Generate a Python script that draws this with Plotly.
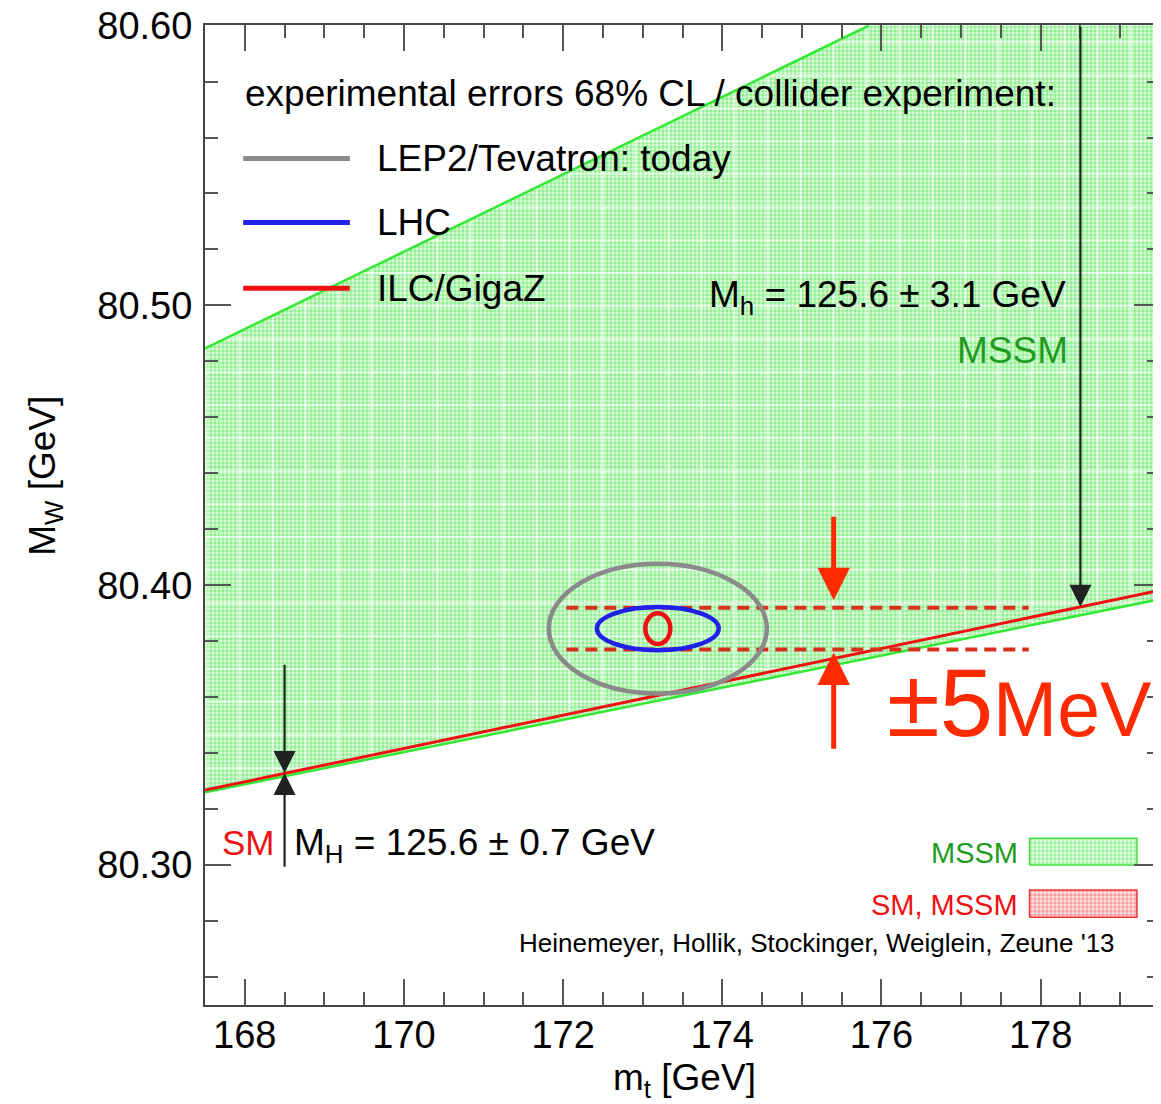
import numpy as np
import plotly.graph_objects as go

# ---------------- data ----------------
# MSSM allowed band (boundary polygon, m_t [GeV], M_W [GeV])
mssm_mt = [167.5, 179.5, 179.5, 175.84, 167.5]
mssm_mw = [80.326, 80.395, 80.60, 80.60, 80.4846]
# SM line (M_H = 125.6 GeV)
sm_mt = [167.5, 179.5]
sm_mw = [80.3268, 80.3982]
# ILC/GigaZ +-5 MeV band (dashed lines)
band_mt = [172.04, 177.85]
band_mw_hi = 80.392
band_mw_lo = 80.377
# ellipses: centre and half-widths
ell_center = (173.19, 80.3845)
ell_names = ["LEP2/Tevatron: today", "LHC", "ILC/GigaZ"]
ell_dx = [1.37, 0.765, 0.157]
ell_dy = [0.0232, 0.0077, 0.0055]
ell_colors = ["#8a8a8a", "#2020e8", "#ee1010"]
# axes
x_range = [167.5, 179.5]
y_range = [80.25, 80.6002]
x_ticks = [168, 170, 172, 174, 176, 178]
y_ticks = [80.30, 80.40, 80.50, 80.60]

FONT = "Liberation Sans, Arial, Helvetica, sans-serif"

fig = go.Figure()

# MSSM band with dotted pattern
fig.add_trace(go.Scatter(
    x=mssm_mt, y=mssm_mw, mode="lines", fill="toself",
    line=dict(color="rgba(0,0,0,0)", width=0),
    fillpattern=dict(shape=".", fgcolor="#45e245", bgcolor="#dcfadc",
                     size=4, solidity=0.55),
    hoverinfo="skip", showlegend=False))

# white raster grid inside the band (mimics the rendered pattern)
lo_x, lo_y = mssm_mt[0:2], mssm_mw[0:2]
up_x, up_y = [mssm_mt[4], mssm_mt[3]], [mssm_mw[4], mssm_mw[3]]
gx, gy = [], []
dxg = 33 / 79.58
dyg = 33 / 2800
for xv in np.arange(167.5 + 0.02, 179.5, dxg):
    y0 = np.interp(xv, lo_x, lo_y)
    y1 = min(np.interp(xv, up_x, up_y, right=80.60), 80.60)
    gx += [xv, xv, None]
    gy += [y0, y1, None]
for yv in np.arange(80.60 - 0.006, 80.32, -dyg):
    xa = np.interp(yv, up_y, up_x) if yv > up_y[0] else 167.5
    xb = np.interp(yv, lo_y, lo_x) if yv < lo_y[1] else 179.5
    if xb > xa:
        gx += [xa, xb, None]
        gy += [yv, yv, None]
fig.add_trace(go.Scatter(x=gx, y=gy, mode="lines",
                         line=dict(color="rgba(255,255,255,0.55)", width=2.2),
                         hoverinfo="skip", showlegend=False))

# band edges
fig.add_trace(go.Scatter(x=[mssm_mt[0], mssm_mt[1]], y=[mssm_mw[0], mssm_mw[1]],
                         mode="lines", line=dict(color="#33e833", width=2.5),
                         hoverinfo="skip", showlegend=False))
fig.add_trace(go.Scatter(x=[mssm_mt[4], mssm_mt[3]], y=[mssm_mw[4], mssm_mw[3]],
                         mode="lines", line=dict(color="#33e833", width=2.5),
                         hoverinfo="skip", showlegend=False))
# SM line
fig.add_trace(go.Scatter(x=sm_mt, y=sm_mw, mode="lines",
                         line=dict(color="#ee1111", width=3),
                         hoverinfo="skip", showlegend=False))
# dashed +-5 MeV lines
for yv in (band_mw_hi, band_mw_lo):
    fig.add_trace(go.Scatter(x=band_mt, y=[yv, yv], mode="lines",
                             line=dict(color="#d8301c", width=4, dash="12px,7px"),
                             hoverinfo="skip", showlegend=False))

shapes = []
for dx, dy, c in zip(ell_dx, ell_dy, ell_colors):
    shapes.append(dict(type="circle", xref="x", yref="y",
                       x0=ell_center[0] - dx, x1=ell_center[0] + dx,
                       y0=ell_center[1] - dy, y1=ell_center[1] + dy,
                       line=dict(color=c, width=4.5)))
# legend lines
for yv, c in zip([80.5525, 80.5296, 80.5061], ell_colors):
    shapes.append(dict(type="line", xref="x", yref="y", x0=167.98, x1=169.32,
                       y0=yv, y1=yv, line=dict(color=c, width=5)))

# legend boxes (bottom right)
for (ya, yb), fg, bg, ln in [((80.3000, 80.3096), "#5be65b", "#e4fbe4", "#44dd44"),
                             ((80.2814, 80.2911), "#f06060", "#fde4e4", "#ee3333")]:
    fig.add_trace(go.Scatter(x=[177.86, 179.21, 179.21, 177.86, 177.86],
                             y=[ya, ya, yb, yb, ya], mode="lines", fill="toself",
                             line=dict(color=ln, width=1.5),
                             fillpattern=dict(shape=".", fgcolor=fg, bgcolor=bg,
                                              size=4, solidity=0.55),
                             hoverinfo="skip", showlegend=False))

ann = []
def txt(x, y, s, size, color="black", xanchor="left", **kw):
    ann.append(dict(x=x, y=y, xref="x", yref="y", text=s, showarrow=False,
                    xanchor=xanchor, yanchor="middle",
                    font=dict(family=FONT, size=size, color=color), **kw))

txt(167.98, 80.5757, "experimental errors 68% CL / collider experiment:", 37)
for yv, name in zip([80.5525, 80.5296, 80.5061], ell_names):
    txt(169.64, yv, name, 37)
txt(178.34, 80.5030, "M<sub>h</sub> = 125.6 ± 3.1 GeV", 37, xanchor="right")
txt(178.37, 80.4839, "MSSM", 37, color="#1f9c1f", xanchor="right")
txt(167.69, 80.3082, "SM", 35, color="#ee1111")
txt(168.59, 80.3070, "M<sub>H</sub> = 125.6 ± 0.7 GeV", 37)
txt(177.74, 80.3043, "MSSM", 29, color="#1f9c1f", xanchor="right")
txt(177.74, 80.2857, "SM, MSSM", 29, color="#ee1111", xanchor="right")
txt(178.96, 80.2721, "Heinemeyer, Hollik, Stockinger, Weiglein, Zeune '13", 26,
    xanchor="right")
txt(176.04, 80.358, "±5<span style='font-size:77px'>MeV</span>", 96, color="#ff2a00")

# arrows
def arrow(x, y_tail, y_head, color, width, size, head=2):
    ann.append(dict(x=x, y=y_head, ax=x, ay=y_tail, xref="x", yref="y",
                    axref="x", ayref="y", text="", showarrow=True,
                    arrowhead=head, arrowsize=size, arrowwidth=width,
                    arrowcolor=color))

arrow(178.5, 80.60, 80.3923, "#222222", 2.2, 2.0)
arrow(168.5, 80.3721, 80.3329, "#222222", 2.2, 2.0)
arrow(168.5, 80.2989, 80.3329, "#222222", 2.2, 2.0)
arrow(175.4, 80.425, 80.3946, "#ff2a00", 5, 1.3)
arrow(175.4, 80.341, 80.3760, "#ff2a00", 5, 1.3)

# axis titles
ann.append(dict(x=-0.1675, y=0.54, xref="paper", yref="paper", showarrow=False,
                text="M<sub>W</sub> [GeV]", textangle=-90,
                xanchor="center", yanchor="middle",
                font=dict(family=FONT, size=37, color="black")))
ann.append(dict(x=0.5026, y=-0.0765, xref="paper", yref="paper", showarrow=False,
                text="m<sub>t</sub> [GeV]", xanchor="center", yanchor="middle",
                font=dict(family=FONT, size=37, color="black")))

axis_common = dict(showline=True, linecolor="#444444", linewidth=2, mirror="ticks",
                   ticks="inside", ticklen=26, tickwidth=2, tickcolor="#555555",
                   showgrid=False, zeroline=False, ticklabeloverflow="allow",
                   tickfont=dict(family=FONT, size=38, color="black"))

# page body has an 8px margin: plot area lands at screen x 205..1160, y 25..1005
fig.update_layout(
    width=1153, height=1096,
    margin=dict(l=197, r=1, t=17, b=99, autoexpand=False),
    paper_bgcolor="white", plot_bgcolor="white",
    showlegend=False,
    shapes=shapes, annotations=ann,
    xaxis=dict(range=x_range, tickvals=x_ticks, ticklabelstandoff=-5,
               minor=dict(dtick=0.5, tick0=167.5, ticks="inside", ticklen=13,
                          tickwidth=2, tickcolor="#555555"),
               **axis_common),
    yaxis=dict(range=y_range, tickvals=y_ticks, tickformat=".2f",
               ticklabelstandoff=3,
               minor=dict(dtick=0.02, tick0=80.26, ticks="inside", ticklen=13,
                          tickwidth=2, tickcolor="#555555"),
               **axis_common),
)

fig.write_html("out.html")
